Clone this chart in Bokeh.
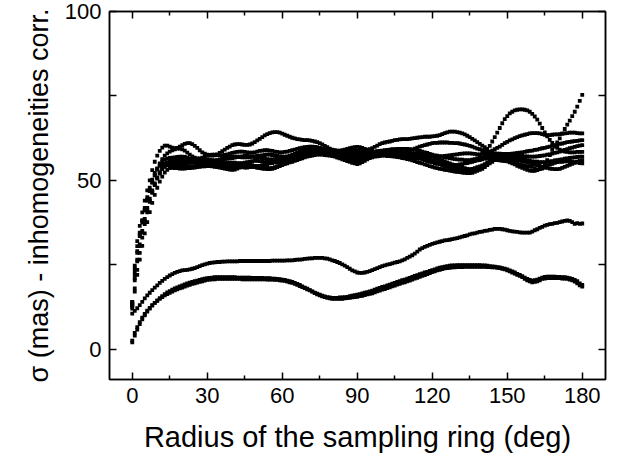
from bokeh.plotting import figure
from bokeh.models import ColumnDataSource, Range1d, FixedTicker, LinearAxis
from bokeh.embed import file_html
from bokeh.resources import INLINE

# ---------------- data (sigma in mas, sampled every degree 0..180) ----------------
x_ticks = [0, 30, 60, 90, 120, 150, 180]
x_minor = [15, 45, 75, 105, 135, 165]
y_ticks = [0, 25, 50, 75, 100]
y_tick_labels = {0: "0", 25: "", 50: "50", 75: "", 100: "100"}

u1 = [14, 24.7, 32, 36.5, 40.5, 44, 47, 50, 53, 55.5,
      57.3, 58.7, 59.7, 60.3, 60.3, 60, 59.7, 59.5, 59.6, 60,
      60.4, 60.8, 61, 61, 60.7, 60.2, 59.6, 58.9, 58.3, 57.9,
      57.6, 57.4, 57.3, 57.4, 57.7, 58.1, 58.6, 59.1, 59.6, 60,
      60.4, 60.6, 60.7, 60.7, 60.6, 60.5, 60.5, 60.6, 60.9, 61.3,
      61.8, 62.3, 62.8, 63.3, 63.7, 64, 64.2, 64.3, 64.3, 64.1,
      63.8, 63.5, 63.2, 62.9, 62.6, 62.4, 62.2, 62.1, 62, 61.9,
      61.9, 61.8, 61.7, 61.5, 61.3, 61, 60.6, 60.2, 59.8, 59.4,
      59.1, 58.9, 58.8, 58.8, 58.9, 59.1, 59.3, 59.5, 59.7, 59.8,
      59.9, 59.8, 59.6, 59.3, 59.1, 59.2, 59.5, 59.9, 60.3, 60.7,
      61, 61.2, 61.4, 61.5, 61.7, 61.9, 62, 62.1, 62.2, 62.2,
      62.2, 62.3, 62.4, 62.5, 62.6, 62.7, 62.8, 62.9, 62.9, 62.9,
      63, 63.1, 63.2, 63.4, 63.7, 64, 64.2, 64.4, 64.4, 64.4,
      64.3, 64.1, 63.9, 63.6, 63.2, 62.8, 62.3, 61.8, 61.3, 60.8,
      60.3, 59.8, 59.3, 60.2, 61.5, 62.8, 64.1, 65.5, 66.9, 68.1,
      69, 69.8, 70.3, 70.7, 70.9, 71, 71, 70.9, 70.7, 70.3,
      69.7, 68.9, 68, 66.8, 65.5, 64.2, 63, 62, 61.1, 60.3,
      59.6, 59.1, 58.8, 58.5, 58.4, 58.3, 58.3, 58.3, 58.4, 58.4,
      58.4]

u2 = [13.5, 23, 29, 34, 38.2, 41.8, 45, 47.8, 50.2, 52.2,
      53.5, 54.3, 54.8, 55, 55.1, 55.1, 55.1, 55, 55, 55,
      55, 55.1, 55.2, 55.3, 55.5, 55.6, 55.7, 55.9, 56, 56.1,
      56.2, 56.1, 56, 55.8, 55.6, 55.4, 55.2, 55, 54.8, 54.6,
      54.4, 54.2, 54.1, 54, 53.9, 53.8, 53.8, 53.9, 54, 54.1,
      54.2, 54.3, 54.5, 54.6, 54.8, 55, 55.2, 55.4, 55.6, 55.8,
      56, 56.2, 56.4, 56.6, 56.8, 57, 57.2, 57.4, 57.6, 57.8,
      58, 58.2, 58.3, 58.5, 58.7, 58.8, 58.8, 58.7, 58.6, 58.5,
      58.3, 58.1, 57.8, 57.5, 57.3, 57, 56.8, 56.6, 56.4, 56.2,
      56, 56.3, 56.6, 57, 57.3, 57.6, 57.8, 58, 58.2, 58.4,
      58.5, 58.5, 58.5, 58.5, 58.4, 58.4, 58.3, 58.2, 58.2, 58.1,
      58, 58, 57.9, 57.9, 57.8, 57.8, 57.7, 57.5, 57.4, 57.2,
      57, 56.7, 56.4, 56.2, 55.9, 55.6, 55.3, 55, 54.7, 54.3,
      54, 53.9, 53.7, 53.6, 53.4, 53.3, 53.4, 53.6, 53.9, 54.1,
      54.4, 54.8, 55.3, 55.8, 56.2, 56.6, 56.6, 56.5, 56.3, 56.2,
      56, 55.7, 55.5, 55.2, 54.9, 54.6, 54.5, 54.3, 54.2, 54.1,
      54, 53.6, 53.2, 53.3, 53.5, 54.5, 56, 57.5, 59, 60,
      61.2, 62.4, 63.8, 65.2, 66.5, 67.7, 69, 70.3, 71.8, 73.5,
      75.3]

u3 = [13, 22, 28.5, 33.5, 37.5, 41, 44, 46.8, 49.3, 51.5,
      53.4, 55, 56.3, 57.3, 58, 58.5, 58.9, 59.2, 59.4, 59.4,
      59.2, 58.8, 58.2, 57.6, 57.1, 56.7, 56.5, 56.5, 56.7, 57,
      57.3, 57.5, 57.6, 57.6, 57.5, 57.4, 57.4, 57.5, 57.7, 57.9,
      58.1, 58.3, 58.4, 58.5, 58.5, 58.4, 58.3, 58.2, 58.2, 58.3,
      58.5, 58.7, 58.8, 58.9, 58.9, 58.8, 58.7, 58.5, 58.4, 58.3,
      58.3, 58.4, 58.5, 58.7, 58.9, 59.1, 59.3, 59.5, 59.7, 59.8,
      59.9, 60, 60, 59.9, 59.8, 59.6, 59.3, 59, 58.7, 58.4,
      58.2, 58, 57.9, 57.9, 58, 58.2, 58.4, 58.6, 58.7, 58.8,
      58.8, 58.7, 58.5, 58.3, 58.2, 58.2, 58.3, 58.5, 58.6, 58.6,
      58.5, 58.3, 58.1, 57.9, 57.7, 57.5, 57.3, 57.2, 57.1, 57,
      57, 57, 57.1, 57.2, 57.3, 57.4, 57.5, 57.5, 57.5, 57.4,
      57.3, 57.2, 57.1, 57.1, 57.1, 57.2, 57.3, 57.4, 57.5, 57.6,
      57.7, 57.8, 57.9, 58, 58, 58, 57.9, 57.8, 57.7, 57.7,
      57.8, 57.9, 58.2, 58.5, 58.8, 59.2, 59.6, 60, 60.5, 61,
      61.4, 61.8, 62.1, 62.5, 62.8, 63.1, 63.3, 63.5, 63.7, 63.9,
      64, 64, 64, 63.9, 63.7, 63.5, 63.4, 63.4, 63.5, 63.6,
      63.6, 63.7, 63.8, 63.9, 64, 64.1, 64.1, 64.1, 64, 63.9,
      63.9]

u4 = [13.4, 20.4, 26, 30.5, 34.5, 38, 41.2, 44, 46.5, 48.8,
      50.8, 52.4, 53.7, 54.8, 55.3, 55.6, 55.8, 56, 56.1, 56.2,
      56.2, 56.1, 56, 55.8, 55.7, 55.6, 55.5, 55.4, 55.4, 55.4,
      55.4, 55.5, 55.6, 55.8, 56, 56.2, 56.4, 56.6, 56.8, 56.9,
      57, 57, 57, 56.9, 56.8, 56.8, 56.8, 56.9, 57, 57.1,
      57.2, 57.3, 57.4, 57.5, 57.6, 57.6, 57.5, 57.4, 57.2, 57.1,
      57, 57, 57.1, 57.3, 57.5, 57.8, 58.1, 58.4, 58.7, 59,
      59.2, 59.3, 59.4, 59.5, 59.5, 59.5, 59.4, 59.3, 59.2, 59.1,
      59, 58.8, 58.7, 58.5, 58.4, 58.3, 58.3, 58.3, 58.4, 58.4,
      58.5, 58.5, 58.6, 58.6, 58.6, 58.6, 58.5, 58.4, 58.3, 58.2,
      58.1, 58, 57.9, 57.8, 57.7, 57.6, 57.7, 57.8, 58, 58.2,
      58.5, 58.8, 59.1, 59.4, 59.7, 60, 60.2, 60.4, 60.6, 60.8,
      61, 61.1, 61.1, 61.2, 61.2, 61.2, 61.2, 61.1, 61.1, 61,
      61, 60.9, 60.7, 60.6, 60.4, 60.2, 60, 59.7, 59.4, 59.2,
      58.9, 58.7, 58.5, 58.3, 58.1, 58, 57.9, 57.9, 57.8, 57.8,
      57.8, 57.8, 57.9, 58, 58.1, 58.2, 58.3, 58.4, 58.6, 58.7,
      58.8, 59, 59.1, 59.3, 59.5, 59.6, 59.8, 60, 60.2, 60.4,
      60.6, 60.8, 60.9, 61.1, 61.3, 61.4, 61.5, 61.6, 61.7, 61.8,
      61.9]

u5 = [14, 24, 30.5, 34.5, 38, 41.3, 44.3, 47, 49.4, 51.5,
      53.2, 54.5, 55.5, 56.1, 56.4, 56.6, 56.7, 56.8, 56.9, 57,
      57, 56.9, 56.7, 56.4, 56.2, 56, 55.9, 55.8, 55.7, 55.6,
      55.6, 55.6, 55.7, 55.8, 55.9, 56, 56.1, 56.2, 56.4, 56.5,
      56.6, 56.7, 56.9, 57, 57.1, 57.2, 57.2, 57.1, 57, 56.9,
      56.8, 56.7, 56.6, 56.4, 56.3, 56.2, 56.2, 56.3, 56.4, 56.5,
      56.6, 56.7, 56.9, 57.1, 57.2, 57.4, 57.6, 57.9, 58.1, 58.4,
      58.6, 58.8, 59, 59.1, 59.2, 59.2, 59.1, 59, 58.8, 58.7,
      58.5, 58.4, 58.2, 58.1, 57.9, 57.8, 57.7, 57.6, 57.6, 57.5,
      57.5, 57.5, 57.6, 57.7, 57.8, 58, 58.2, 58.3, 58.5, 58.7,
      58.8, 58.9, 59, 59.1, 59.2, 59.2, 59.3, 59.3, 59.3, 59.3,
      59.3, 59.2, 59.1, 59, 58.9, 58.7, 58.5, 58.3, 58.1, 57.8,
      57.6, 57.4, 57.3, 57.1, 57, 56.8, 56.7, 56.6, 56.4, 56.3,
      56.2, 56.1, 56.1, 56, 56, 56, 56.1, 56.3, 56.5, 56.7,
      56.8, 57, 57.2, 57.3, 57.5, 57.6, 57.6, 57.6, 57.6, 57.6,
      57.6, 57.5, 57.4, 57.4, 57.3, 57.2, 57.2, 57.1, 57.1, 57,
      57, 57, 57.1, 57.2, 57.3, 57.4, 57.6, 57.7, 57.9, 58.1,
      58.3, 58.5, 58.7, 59, 59.2, 59.5, 59.7, 59.9, 60.1, 60.3,
      60.4]

u6 = [12, 18, 23.5, 28.5, 33, 37, 40.5, 43.6, 46.3, 48.6,
      50.5, 52, 53.3, 54.3, 55, 55.2, 55.3, 55.4, 55.5, 55.6,
      55.6, 55.6, 55.5, 55.4, 55.3, 55.2, 55.1, 55, 54.9, 54.9,
      54.8, 54.7, 54.6, 54.6, 54.5, 54.4, 54.3, 54.2, 54.1, 54,
      54, 54.2, 54.5, 54.7, 55, 55.2, 55.4, 55.5, 55.7, 55.8,
      55.8, 55.7, 55.6, 55.4, 55.3, 55.2, 55.2, 55.3, 55.4, 55.5,
      55.6, 55.8, 56.1, 56.3, 56.6, 56.8, 57.1, 57.4, 57.7, 58,
      58.2, 58.3, 58.4, 58.5, 58.6, 58.6, 58.6, 58.5, 58.4, 58.2,
      58.1, 57.9, 57.7, 57.6, 57.4, 57.2, 57, 56.9, 56.7, 56.5,
      56.4, 56.5, 56.7, 56.9, 57.1, 57.3, 57.5, 57.7, 57.9, 58,
      58.2, 58.3, 58.4, 58.5, 58.5, 58.6, 58.6, 58.5, 58.4, 58.3,
      58.1, 57.9, 57.7, 57.5, 57.3, 57.1, 56.9, 56.7, 56.5, 56.2,
      56, 55.8, 55.5, 55.3, 55, 54.8, 54.7, 54.6, 54.6, 54.6,
      54.6, 54.7, 54.8, 55, 55.1, 55.3, 55.5, 55.7, 55.9, 56,
      56.2, 56.4, 56.5, 56.7, 56.8, 57, 57.1, 57.2, 57.3, 57.3,
      57.4, 57.3, 57.2, 57, 56.8, 56.6, 56.4, 56.2, 56, 55.8,
      55.6, 55.5, 55.5, 55.4, 55.4, 55.4, 55.5, 55.6, 55.7, 55.9,
      56, 56.1, 56.2, 56.4, 56.5, 56.6, 56.7, 56.8, 56.9, 57,
      57]

u7 = [13, 21, 26.5, 31, 35, 38.6, 41.8, 44.6, 47, 49.1,
      50.8, 52.2, 53.3, 54, 54.4, 54.5, 54.5, 54.4, 54.4, 54.3,
      54.3, 54.3, 54.2, 54.2, 54.2, 54.2, 54.3, 54.4, 54.4, 54.5,
      54.6, 54.7, 54.8, 54.9, 54.9, 55, 55.1, 55.1, 55.2, 55.2,
      55.2, 55.2, 55.1, 55.1, 55, 55, 54.8, 54.7, 54.5, 54.3,
      54.2, 54, 53.9, 53.8, 53.7, 53.6, 53.7, 53.9, 54.2, 54.5,
      54.8, 55.1, 55.4, 55.7, 56, 56.3, 56.6, 56.9, 57.1, 57.4,
      57.6, 57.8, 57.9, 58, 58.1, 58.2, 58.1, 58, 57.9, 57.7,
      57.6, 57.3, 57.1, 56.9, 56.6, 56.4, 56.2, 56, 55.8, 55.6,
      55.4, 55.6, 56, 56.3, 56.7, 57, 57.2, 57.4, 57.6, 57.7,
      57.8, 57.8, 57.7, 57.7, 57.6, 57.5, 57.4, 57.3, 57.2, 57.1,
      57, 56.9, 56.8, 56.6, 56.5, 56.4, 56.2, 56, 55.7, 55.5,
      55.3, 55.1, 54.9, 54.7, 54.4, 54.2, 54, 53.8, 53.6, 53.4,
      53.3, 53.2, 53.1, 53, 52.9, 52.8, 52.9, 53.1, 53.3, 53.5,
      53.8, 54.3, 54.9, 55.5, 56, 56.5, 56.6, 56.6, 56.6, 56.6,
      56.6, 56.5, 56.3, 56.2, 56, 55.8, 55.6, 55.5, 55.3, 55.2,
      55, 54.8, 54.5, 54.3, 54, 53.8, 53.7, 53.5, 53.4, 53.3,
      53.3, 53.4, 53.7, 54, 54.3, 54.6, 54.9, 55.2, 55.5, 55.8,
      56]

u8 = [12.5, 17, 22, 26.5, 30.6, 34.3, 37.6, 40.6, 43.3, 45.7,
      47.8, 49.6, 51.1, 52.3, 53.1, 53.6, 53.7, 53.6, 53.6, 53.5,
      53.5, 53.5, 53.6, 53.6, 53.7, 53.8, 53.9, 54, 54.1, 54.1,
      54.2, 54.2, 54.1, 54, 53.9, 53.8, 53.6, 53.5, 53.3, 53.2,
      53.1, 53.2, 53.5, 53.8, 54.1, 54.3, 54.3, 54.2, 54, 53.9,
      53.7, 53.6, 53.5, 53.4, 53.3, 53.3, 53.4, 53.6, 53.9, 54.2,
      54.5, 54.8, 55, 55.3, 55.5, 55.8, 56, 56.3, 56.5, 56.8,
      57, 57.2, 57.3, 57.5, 57.6, 57.6, 57.6, 57.5, 57.4, 57.3,
      57.2, 57, 56.7, 56.5, 56.2, 56, 55.7, 55.5, 55.2, 55,
      54.8, 55, 55.4, 55.8, 56.2, 56.6, 56.8, 57, 57.1, 57.2,
      57.3, 57.3, 57.2, 57.2, 57.1, 57, 56.9, 56.8, 56.6, 56.5,
      56.3, 56.1, 55.9, 55.7, 55.4, 55.2, 55, 54.7, 54.5, 54.2,
      54, 53.8, 53.6, 53.4, 53.3, 53.1, 53, 52.9, 52.7, 52.6,
      52.5, 52.4, 52.3, 52.2, 52.1, 52.1, 52.2, 52.5, 52.8, 53.1,
      53.4, 53.9, 54.5, 55, 55.5, 56, 56, 55.9, 55.8, 55.7,
      55.6, 55.3, 55, 54.7, 54.3, 54, 53.7, 53.4, 53.1, 52.9,
      52.8, 52.8, 53, 53.3, 53.7, 54.2, 54.4, 54.7, 54.9, 55.2,
      55.4, 55.5, 55.5, 55.6, 55.6, 55.6, 55.5, 55.4, 55.3, 55.1,
      55]

l1 = [10.5, 11.3, 12.1, 13, 14, 15, 15.9, 16.7, 17.5, 18.2,
      18.9, 19.6, 20.2, 20.8, 21.3, 21.8, 22.2, 22.6, 22.9, 23.1,
      23.3, 23.4, 23.5, 23.6, 23.8, 24, 24.3, 24.6, 24.9, 25.1,
      25.3, 25.5, 25.6, 25.7, 25.8, 25.8, 25.9, 25.9, 26, 26,
      26, 26, 26, 26.1, 26.1, 26.1, 26.1, 26.1, 26.1, 26.1,
      26.1, 26.1, 26.1, 26.1, 26.1, 26.1, 26.2, 26.2, 26.2, 26.2,
      26.2, 26.2, 26.3, 26.3, 26.3, 26.4, 26.5, 26.5, 26.6, 26.7,
      26.8, 26.9, 26.9, 27, 27, 27, 27, 26.9, 26.8, 26.6,
      26.3, 26.1, 25.8, 25.5, 25.1, 24.7, 24.3, 23.8, 23.3, 23,
      22.7, 22.6, 22.6, 22.7, 22.9, 23.1, 23.4, 23.7, 24, 24.3,
      24.6, 24.8, 25, 25.2, 25.4, 25.6, 25.8, 26, 26.3, 26.6,
      27, 27.4, 27.8, 28.3, 28.9, 29.5, 29.9, 30.3, 30.6, 30.9,
      31.2, 31.4, 31.6, 31.8, 32, 32.2, 32.3, 32.4, 32.6, 32.7,
      32.9, 33.1, 33.3, 33.5, 33.7, 34, 34.2, 34.3, 34.5, 34.7,
      34.8, 35, 35.1, 35.3, 35.4, 35.6, 35.6, 35.6, 35.5, 35.4,
      35.2, 35, 34.9, 34.8, 34.7, 34.6, 34.5, 34.5, 34.5, 34.5,
      34.8, 35.2, 35.5, 35.9, 36.2, 36.6, 36.8, 37, 37.1, 37.3,
      37.4, 37.6, 37.8, 38, 38.1, 38, 37.6, 37.1, 37.3, 37.1,
      37.2]

l2 = [2.5, 4.8, 6.5, 8, 9.3, 10.4, 11.4, 12.2, 13, 13.7,
      14.3, 14.9, 15.4, 15.9, 16.3, 16.7, 17, 17.4, 17.7, 18,
      18.2, 18.5, 18.8, 19, 19.3, 19.5, 19.7, 19.9, 20.1, 20.3,
      20.5, 20.6, 20.7, 20.7, 20.8, 20.8, 20.8, 20.8, 20.8, 20.8,
      20.8, 20.8, 20.8, 20.8, 20.7, 20.7, 20.7, 20.7, 20.7, 20.7,
      20.7, 20.7, 20.7, 20.7, 20.6, 20.6, 20.6, 20.5, 20.5, 20.4,
      20.3, 20.2, 20, 19.8, 19.6, 19.3, 19, 18.7, 18.4, 18.1,
      17.7, 17.4, 17, 16.6, 16.2, 15.9, 15.6, 15.4, 15.2, 15,
      14.9, 14.9, 14.9, 14.9, 14.9, 15, 15.1, 15.2, 15.3, 15.4,
      15.5, 15.7, 15.8, 16, 16.2, 16.4, 16.5, 16.8, 17.1, 17.3,
      17.6, 17.8, 18.1, 18.3, 18.6, 18.8, 19.1, 19.3, 19.6, 19.8,
      20.1, 20.3, 20.6, 20.9, 21.1, 21.4, 21.7, 21.9, 22.2, 22.5,
      22.8, 23, 23.3, 23.5, 23.7, 23.9, 24, 24.1, 24.2, 24.2,
      24.3, 24.3, 24.3, 24.4, 24.4, 24.4, 24.4, 24.4, 24.4, 24.4,
      24.4, 24.4, 24.3, 24.3, 24.2, 24.2, 24.1, 24, 23.8, 23.6,
      23.3, 23, 22.7, 22.4, 22, 21.7, 21.3, 20.8, 20.4, 20.1,
      19.8, 19.9, 20.1, 20.4, 20.8, 20.9, 21, 21, 21, 21,
      21, 21, 20.9, 20.9, 20.8, 20.6, 20.4, 20, 19.5, 18.9,
      18.5]

l3 = [2, 4, 5.8, 7.4, 8.8, 10, 11.1, 12, 12.9, 13.7,
      14.4, 15.1, 15.7, 16.3, 16.8, 17.2, 17.6, 18, 18.3, 18.6,
      18.9, 19.2, 19.5, 19.7, 19.9, 20.1, 20.3, 20.5, 20.7, 20.9,
      21, 21.1, 21.2, 21.3, 21.3, 21.3, 21.3, 21.3, 21.3, 21.3,
      21.3, 21.3, 21.2, 21.2, 21.2, 21.2, 21.2, 21.2, 21.1, 21.1,
      21.1, 21.1, 21.1, 21, 21, 21, 20.9, 20.9, 20.8, 20.7,
      20.6, 20.5, 20.3, 20.1, 19.9, 19.6, 19.3, 19, 18.6, 18.2,
      17.9, 17.5, 17.1, 16.7, 16.4, 16.1, 15.8, 15.6, 15.4, 15.3,
      15.2, 15.2, 15.2, 15.3, 15.3, 15.4, 15.5, 15.7, 15.8, 16,
      16.1, 16.3, 16.5, 16.7, 16.9, 17.1, 17.3, 17.6, 17.9, 18.1,
      18.4, 18.6, 18.9, 19.1, 19.4, 19.6, 19.9, 20.1, 20.4, 20.6,
      20.9, 21.1, 21.4, 21.7, 21.9, 22.2, 22.4, 22.7, 22.9, 23.2,
      23.4, 23.6, 23.9, 24.1, 24.3, 24.4, 24.6, 24.7, 24.8, 24.8,
      24.9, 24.9, 24.9, 24.9, 24.9, 24.9, 24.9, 24.9, 24.9, 24.9,
      24.8, 24.8, 24.7, 24.6, 24.5, 24.4, 24.3, 24.2, 24, 23.8,
      23.6, 23.3, 23, 22.7, 22.3, 22, 21.6, 21.2, 20.8, 20.5,
      20.3, 20.4, 20.6, 20.9, 21.2, 21.4, 21.5, 21.5, 21.5, 21.5,
      21.4, 21.4, 21.3, 21.3, 21.2, 21, 20.8, 20.5, 20.1, 19.5,
      19]

series = [u1, u2, u3, u4, u5, u6, u7, u8, l1, l2, l3]

# ---------------- figure ----------------
FONT = "Liberation Sans"

p = figure(width=622, height=461, output_backend="svg", toolbar_location=None,
           x_range=Range1d(-9.1, 189.3), y_range=Range1d(-9, 100),
           min_border_left=109, min_border_right=17,
           min_border_top=11, min_border_bottom=82,
           background_fill_color="white", border_fill_color="white")
p.xgrid.visible = False
p.ygrid.visible = False
p.outline_line_color = "black"
p.outline_line_width = 1.5

for ys in series:
    src = ColumnDataSource(dict(radius=list(range(len(ys))), sigma=ys))
    p.scatter("radius", "sigma", source=src, marker="square", size=3.8,
              fill_color="black", line_color=None)

def style_axis(ax, ticker, overrides, show_labels=True, minor=True):
    ax.ticker = ticker
    ax.major_label_overrides = overrides
    ax.axis_line_color = "black"
    ax.axis_line_width = 1.5
    ax.major_tick_in = 7
    ax.major_tick_out = 0
    ax.major_tick_line_width = 1.5
    ax.major_tick_line_color = "black"
    ax.minor_tick_in = 4 if minor else 0
    ax.minor_tick_out = 0
    ax.minor_tick_line_width = 1.5
    ax.minor_tick_line_color = "black"
    ax.major_label_text_font = FONT
    ax.major_label_text_color = "black"
    if show_labels:
        ax.major_label_text_font_size = "22px"
    else:
        ax.major_label_text_font_size = "0px"
        ax.major_label_standoff = 0

xt = FixedTicker(ticks=x_ticks, minor_ticks=x_minor)
yt = FixedTicker(ticks=y_ticks, minor_ticks=[])

style_axis(p.xaxis[0], xt, {t: str(t) for t in x_ticks})
p.xaxis[0].major_label_standoff = 8
p.xaxis[0].axis_label = "Radius of the sampling ring (deg)"
p.xaxis[0].axis_label_text_font = FONT
p.xaxis[0].axis_label_text_font_size = "29px"
p.xaxis[0].axis_label_text_font_style = "normal"
p.xaxis[0].axis_label_text_color = "black"
p.xaxis[0].axis_label_standoff = 15

style_axis(p.yaxis[0], yt, y_tick_labels)
p.yaxis[0].major_label_standoff = 8
p.yaxis[0].axis_label = "σ (mas) - inhomogeneities corr."
p.yaxis[0].axis_label_text_font = FONT
p.yaxis[0].axis_label_text_font_size = "27px"
p.yaxis[0].axis_label_text_font_style = "normal"
p.yaxis[0].axis_label_text_color = "black"
p.yaxis[0].axis_label_standoff = 8

top_ax = LinearAxis()
style_axis(top_ax, xt, {t: "" for t in x_ticks}, show_labels=False)
p.add_layout(top_ax, "above")

right_ax = LinearAxis()
style_axis(right_ax, yt, {t: "" for t in y_ticks}, show_labels=False)
p.add_layout(right_ax, "right")

open("out.html", "w").write(file_html(p, INLINE))
